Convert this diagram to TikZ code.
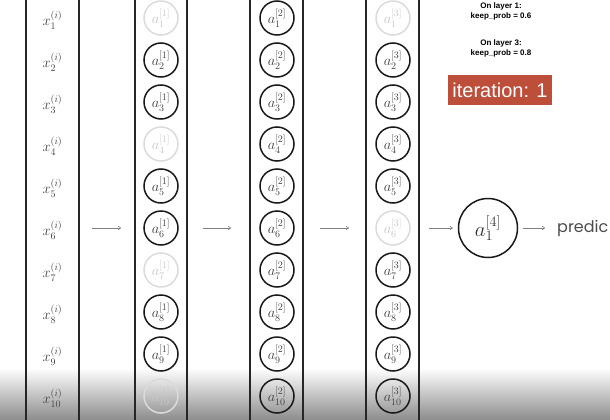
\documentclass[tikz,border=0pt]{standalone}
\usepackage{fontspec}
\setmainfont{Liberation Serif}
\newfontfamily\sansf{Liberation Sans}
\newfontfamily\geof{Poppins}
\usetikzlibrary{arrows.meta}
\definecolor{itbox}{RGB}{189,78,58}
\begin{document}
\begin{tikzpicture}[x=1pt,y=-1pt,
  colline/.style={line width=1.6pt, draw=black!85},
  unit/.style={circle, draw=black!90, line width=1.5pt, minimum size=34pt, inner sep=0pt,
    font=\fontsize{14.5}{16}\selectfont, text=black!75},
  dropped/.style={unit, draw=black!14, text=black!22},
  inlab/.style={font=\fontsize{14}{16}\selectfont, text=black!75, inner sep=0pt},
  flow/.style={-{To[length=3pt,width=4pt]}, draw=black!50, line width=0.6pt},
  note/.style={font=\sansf\bfseries\fontsize{8}{9.5}\selectfont, align=center, inner sep=0pt}]
\useasboundingbox (0,0) rectangle (610,420);
% bottom video-player gradient
\shade[top color=white, bottom color=black!45] (0,368) rectangle (610,420);
% column lines
\foreach \cx in {26,79,135,187,250,303,366,419}
  \draw[colline] (\cx,0) -- (\cx,420);
% inputs
\foreach \i in {1,...,10}
  \node[inlab] (x\i) at (52.5,{20+42*(\i-1)}) {$x_{\i}^{(i)}$};
% layer 1
\foreach \i/\s in {1/dropped,2/unit,3/unit,4/dropped,5/unit,6/unit,7/dropped,8/unit,9/unit,10/dropped}
  \node[\s] (ha\i) at (161,{18+42*(\i-1)}) {$a_{\i}^{[1]}$};
% layer 2
\foreach \i in {1,...,10}
  \node[unit] (hb\i) at (277,{18+42*(\i-1)}) {$a_{\i}^{[2]}$};
% layer 3
\foreach \i/\s in {1/dropped,2/unit,3/unit,4/unit,5/unit,6/dropped,7/unit,8/unit,9/unit,10/unit}
  \node[\s] (hc\i) at (393,{18+42*(\i-1)}) {$a_{\i}^{[3]}$};
% output
\node[unit, minimum size=59pt, font=\fontsize{22}{24}\selectfont, text=black!80] (out) at (488,228) {$a_{1}^{[4]}$};
\node[anchor=west, inner sep=0pt, font=\geof\fontsize{16}{18}\selectfont, text=black!70] (pred) at (557,228) {predic};
% arrows
\coordinate (s1) at (92,228); \coordinate (e1) at (121,228);
\coordinate (s2) at (203,228); \coordinate (e2) at (231,228);
\coordinate (s3) at (320,228); \coordinate (e3) at (349,228);
\coordinate (s4) at (429,228);
\draw[flow] (s1) -- (e1);
\draw[flow] (s2) -- (e2);
\draw[flow] (s3) -- (e3);
\draw[flow, shorten >=5pt] (s4) -- (out.west);
\draw[flow, shorten <=5pt, shorten >=12pt] (out.east) -- (pred.west);
% notes
\node[note] (n1) at (501,11.5) {On layer 1:\\keep\_prob = 0.6};
\node[note] (n3) at (501,48.5) {On layer 3:\\keep\_prob = 0.8};
\node[fill=itbox, text=white, minimum width=104pt, minimum height=30pt, inner sep=0pt,
  font=\sansf\fontsize{20}{22}\selectfont] (it) at (500,90) {iteration: 1};
\end{tikzpicture}
\end{document}
